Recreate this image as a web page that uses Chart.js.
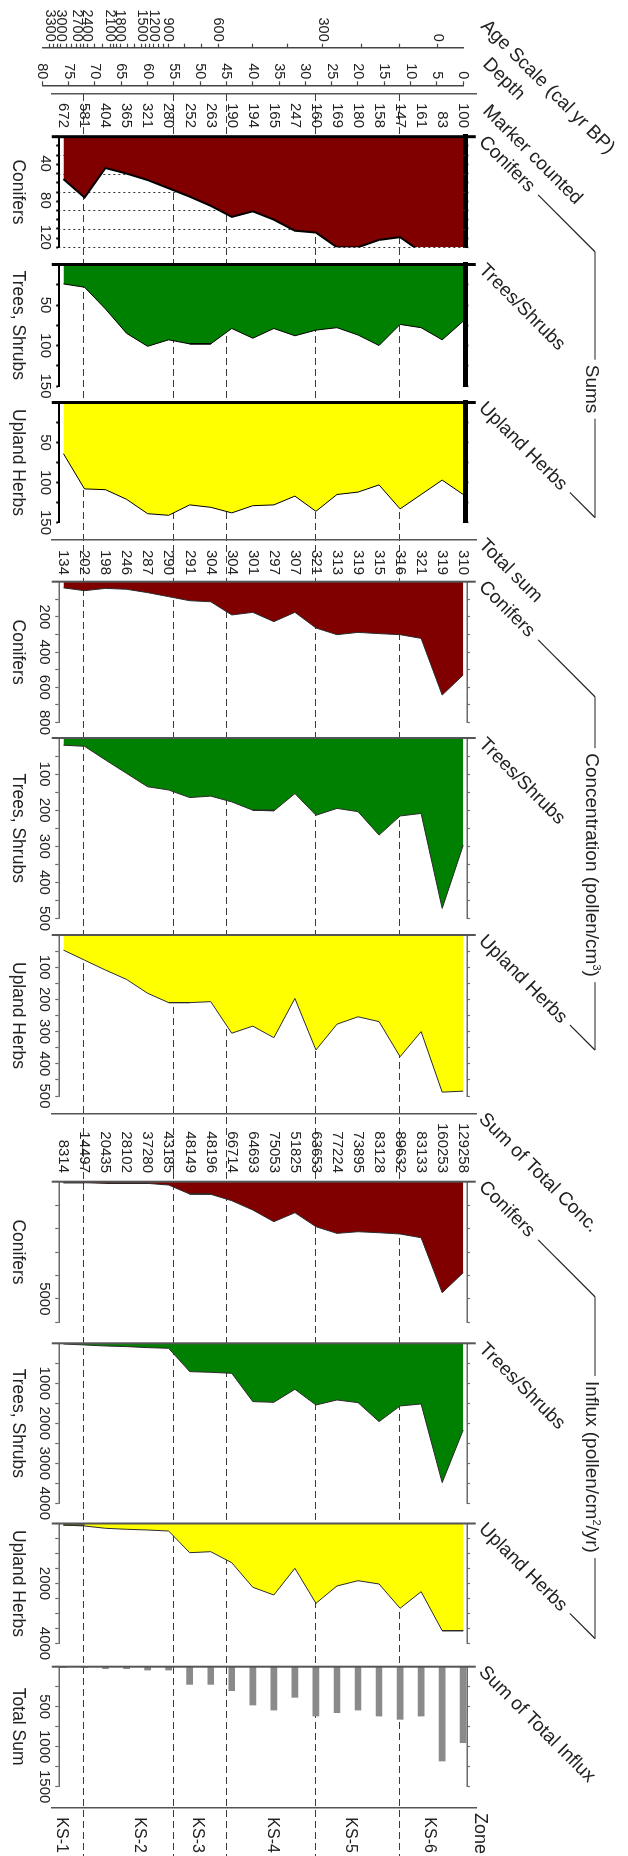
<!DOCTYPE html>
<html><head><meta charset="utf-8">
<script src="https://cdn.jsdelivr.net/npm/chart.js@4.4.1/dist/chart.umd.min.js"></script>
<style>
html,body{margin:0;padding:0;background:#fff;overflow:hidden;}
body{width:628px;height:1856px;position:relative;font-family:"Liberation Sans",Arial,Helvetica,sans-serif;color:#222;}
#stage{position:absolute;left:0;top:0;width:1856px;height:628px;transform-origin:0 0;transform:translateX(628px) rotate(90deg);}
#stage canvas{position:absolute;top:0;}
.hdr{position:absolute;white-space:nowrap;font-size:19px;line-height:19px;transform-origin:0 16px;transform:rotate(-45deg);z-index:5;}
.grp{position:absolute;white-space:nowrap;font-size:19px;line-height:19px;background:#fff;padding:0 5px;transform:translateX(-50%);z-index:5;}
.plain{position:absolute;white-space:nowrap;font-size:18px;line-height:19px;z-index:5;}
sup{font-size:11px;line-height:0;vertical-align:7px;}
</style></head><body><div id="stage"></div>
<script>
// ---------------- DATA (ordered by depth, top of core first) ----------------
const depths = [0,4,8,12,16,20,24,28,32,36,40,44,48,52,56,60,64,68,72,76];
const markerCounted = [100,83,161,147,158,180,169,160,247,165,194,190,263,252,280,321,365,404,581,672];
const totalSum = [310,319,321,316,315,319,313,321,307,297,301,304,304,291,290,287,246,198,202,134];
const sumTotalConc = [129258,160253,83133,89632,83128,73895,77224,63653,51825,75053,64693,66714,48196,48149,43185,37280,28102,20435,14497,8314];
const sumsConifers = [126,127,125,109,112,120,120,104,102,90,81,87,75,65,56,47,40,34,66,46];
const sumsTrees = [70,93,78,74,100,87,78,81,88,79,91,79,98,98,93,101,85,55,28,24];
const sumsHerbs = [115,97,115,133,103,112,115,136,117,128,129,138,131,128,141,139,121,109,108,64];
const concConifers = [530,644,322,301,295,288,301,263,174,227,174,189,114,108,85,62,43,38,51,35];
const concTrees = [297,472,209,216,269,204,195,214,154,202,200,177,161,165,144,135,98,61,23,20];
const concHerbs = [485,488,300,378,269,254,277,357,197,319,283,305,207,210,210,181,138,109,78,47];
const influxConifers = [3884,4737,2390,2232,2177,2134,2205,1920,1323,1707,1208,811,538,525,142,71,71,71,43,42];
const influxTrees = [2167,3483,1517,1567,1958,1483,1417,1542,1150,1475,1458,750,725,708,125,108,83,67,42,17];
const influxHerbs = [3573,3573,2273,2827,2017,1907,2083,2660,1493,2383,2127,1307,940,973,250,217,193,160,83,50];
const influxTotal = [950,1179,617,658,617,542,575,617,383,542,479,300,221,221,42,42,25,25,12,12];
const zoneBounds = [12,28,45,55,72];
const zoneNames = ['KS-6','KS-5','KS-4','KS-3','KS-2','KS-1'];
const zoneLabelDepths = [6.4,21.5,36.3,50.6,61.6,76.3];
const ageLabels = [0,300,600,900,1200,1500,1800,2100,2400,2700,3000,3300];
const ageDepths = [4.8,26.7,46.6,56.1,58.8,61.1,65.2,67.1,71.5,73.5,76.5,78.6];
const depthTicks = [0,5,10,15,20,25,30,35,40,45,50,55,60,65,70,75,80];
const sumsConifersTicks = [40,80,120];
const sumsTreesTicks = [50,100,150];
const sumsHerbsTicks = [50,100,150];
const concConifersTicks = [200,400,600,800];
const concTreesTicks = [100,200,300,400,500];
const concHerbsTicks = [100,200,300,400,500];
const influxConifersTicks = [5000];
const influxTreesTicks = [1000,2000,3000,4000];
const influxHerbsTicks = [2000,4000];
const influxTotalTicks = [500,1000,1500];

// ---------------- LAYOUT ----------------
Chart.defaults.font.family = '"Liberation Sans", Arial, Helvetica, sans-serif';
Chart.defaults.color = '#222';
const H = 628, PX = 5.26, V0 = 164.8;
const vAt = d => V0 + d * PX;
const PANEL_MAX = 76.8, LINE_MIN = -2.4, LINE_MAX = 78.2;
const XB = 52, XT = 4;
const stage = document.getElementById('stage');
const baseOpts = {responsive:false, animation:false, events:[], plugins:{legend:{display:false}, tooltip:{enabled:false}}};

function canvasFor(a, b) {
  const L = Math.floor(a), R = Math.ceil(b);
  const c = document.createElement('canvas');
  c.width = R - L; c.height = H;
  c.style.left = L + 'px';
  stage.appendChild(c);
  return {c, L, R};
}

function header(text, u, v) {
  const d = document.createElement('div');
  d.className = 'hdr';
  d.textContent = text;
  d.style.left = u + 'px';
  d.style.top = (v - 16) + 'px';
  stage.appendChild(d);
  return {u, v, w: d.offsetWidth};
}
function groupTitle(html, uc) {
  const d = document.createElement('div');
  d.className = 'grp';
  d.innerHTML = html;
  d.style.left = uc + 'px';
  d.style.top = (42 - 16) + 'px';
  stage.appendChild(d);
}

const P = {
  sC:[136.7,247.3], sT:[264.5,386], sH:[402.5,522.5],
  cC:[581.7,722.5], cT:[738,918.5], cH:[935,1096],
  iC:[1181.7,1322.3], iT:[1343.3,1503.3], iH:[1523.5,1643.5], iS:[1666.7,1786.7]
};
const ROW = {marker:94, total:539.3, conc:1113.3, zone:1807.3};

header('Age Scale (cal yr BP)', 27, 148);
header('Depth', 65, 146);
header('Marker counted', 112, 146);
const hS1 = header('Conifers', P.sC[0]+6.5, 150);
header('Trees/Shrubs', P.sT[0]+6.5, 150);
const hS3 = header('Upland Herbs', P.sH[0]+6.5, 150);
header('Total sum', ROW.total+6.5, 150);
const hC1 = header('Conifers', P.cC[0]+6.5, 150);
header('Trees/Shrubs', P.cT[0]+6.5, 150);
const hC3 = header('Upland Herbs', P.cH[0]+6.5, 150);
header('Sum of Total Conc.', ROW.conc+6.5, 150);
const hI1 = header('Conifers', P.iC[0]+6.5, 150);
header('Trees/Shrubs', P.iT[0]+6.5, 150);
const hI3 = header('Upland Herbs', P.iH[0]+6.5, 150);
header('Sum of Total Influx', P.iS[0]+6.5, 150);
groupTitle('Sums', 389);
groupTitle('Concentration (pollen/cm<sup>3</sup>)', 865);
groupTitle('Influx (pollen/cm<sup>2</sup>/yr)', 1467);
(function(){
  const d = document.createElement('div');
  d.className = 'plain'; d.textContent = 'Zone';
  d.style.left = '1813px'; d.style.top = (154 - 16) + 'px';
  stage.appendChild(d);
})();

// ---------------- background: zone lines + brackets ----------------
const bg = canvasFor(0, 1856);
new Chart(bg.c, {
  type:'line', data:{datasets:[]},
  options:Object.assign({}, baseOpts, {
    layout:{padding:{left:0,right:0,top:vAt(0),bottom:H - vAt(80)}},
    scales:{x:{display:false}, y:{type:'linear', min:0, max:80, reverse:true, display:false}}
  }),
  plugins:[{id:'decor', afterDraw(chart){
    const ctx = chart.ctx, ys = chart.scales.y;
    ctx.save();
    ctx.strokeStyle = '#3a3a3a'; ctx.lineWidth = 1.1; ctx.setLineDash([7,4]);
    zoneBounds.forEach(d => {
      const v = Math.round(ys.getPixelForValue(d)) + 0.5;
      ctx.beginPath(); ctx.moveTo(94, v); ctx.lineTo(1856, v); ctx.stroke();
    });
    ctx.setLineDash([]); ctx.strokeStyle = '#222'; ctx.lineWidth = 1.2;
    const diag = h => {
      const t0 = h.w + 8;
      const su = h.u - 4.2 + 0.7071*t0, sv = h.v - 4.2 - 0.7071*t0;
      const eu = h.u - 4.2 + (h.v - 4.2 - 33);
      ctx.beginPath(); ctx.moveTo(su, sv); ctx.lineTo(eu, 33); ctx.stroke();
      return eu;
    };
    [[hS1,hS3],[hC1,hC3],[hI1,hI3]].forEach(([a,b]) => {
      const e1 = diag(a), e2 = diag(b);
      ctx.beginPath(); ctx.moveTo(e1, 33); ctx.lineTo(e2, 33); ctx.stroke();
    });
    ctx.restore();
  }}]
});

// ---------------- axis columns (age, depth) ----------------
const ageVals = [], ageText = [];
for (let k = 0; k < ageLabels.length; k++) {
  ageVals.push(ageDepths[k]); ageText.push(String(ageLabels[k]));
  if (k < ageLabels.length - 1) {
    const a0 = ageLabels[k], a1 = ageLabels[k+1], d0 = ageDepths[k], d1 = ageDepths[k+1];
    for (let a = a0 + 100; a < a1; a += 100) { ageVals.push(d0 + (d1 - d0) * (a - a0) / (a1 - a0)); ageText.push(''); }
  }
}
function leftAxis(u, vals, text) {
  const {c, L, R} = canvasFor(0, u + 3);
  new Chart(c, {
    type:'line', data:{datasets:[]},
    options:Object.assign({}, baseOpts, {
      layout:{padding:{left:0, right:R - (u + 2), top:vAt(0), bottom:H - vAt(80)}},
      scales:{
        x:{display:false},
        y:{type:'linear', position:'left', min:0, max:80, reverse:true,
           afterFit:s => { s.width = u - L; },
           afterBuildTicks:s => { s.ticks = vals.map(v => ({value:v})); },
           grid:{display:true, drawOnChartArea:false, drawTicks:true, tickLength:4, tickWidth:1.2, tickColor:'#444', color:'#444'},
           border:{display:true, color:'#444', width:1.5},
           ticks:{autoSkip:false, padding:2, font:{size:14.5}, color:'#222', callback:(v, i) => text[i]}}
      }
    })
  });
}
leftAxis(47.7, ageVals, ageText);
leftAxis(85.3, depthTicks, depthTicks.map(String));

// ---------------- label rows ----------------
function labelRow(u, w, align, pad, size, at, text) {
  const {c, L, R} = canvasFor(u - 6, u + w + 8);
  new Chart(c, {
    type:'line', data:{datasets:[]},
    options:Object.assign({}, baseOpts, {
      layout:{padding:{left:(u - 3) - L, right:R - (u + w), top:vAt(LINE_MIN), bottom:H - vAt(LINE_MAX)}},
      scales:{
        x:{display:false},
        y:{type:'linear', position:'right', min:LINE_MIN, max:LINE_MAX, reverse:true,
           afterFit:s => { s.width = w; },
           afterBuildTicks:s => { s.ticks = at.map(v => ({value:v})); },
           grid:{display:false, drawTicks:false},
           border:{display:true, color:'#555', width:1.5},
           ticks:{autoSkip:false, crossAlign:align, padding:pad, font:{size:size}, color:'#222', callback:(v, i) => String(text[i])}}
      }
    })
  });
}
labelRow(ROW.marker, 34, 'far', 0, 15, depths, markerCounted);
labelRow(ROW.total, 35.7, 'far', 0, 15, depths, totalSum);
labelRow(ROW.conc, 59.7, 'far', 0, 15, depths, sumTotalConc);
labelRow(ROW.zone, 48, 'near', 10, 16, zoneLabelDepths, zoneNames);

// ---------------- data panels ----------------
function panel(o) {
  const sums = !!o.sums;
  const pmin = sums ? -0.4 : -0.7;
  const axisCol = sums ? '#000' : '#6a6a6a';
  const [u0, u1] = o.pos;
  const {c, L, R} = canvasFor(u0 - 30, u1 + 30);
  const top = vAt(pmin), bottom = vAt(PANEL_MAX);
  const pts = depths.map((d, i) => ({x:o.values[i], y:d}));
  const ds = o.bars
    ? {type:'bar', data:pts, backgroundColor:'#8a8a8a', borderWidth:0, barThickness:6}
    : {type:'line', data:pts, fill:{value:o.min}, backgroundColor:o.color, borderColor:sums ? '#000' : '#2b2b2b', borderWidth:o.lw || 1, pointRadius:0, tension:0};
  const frame = {
    id:'frame',
    beforeDatasetsDraw(chart) {
      if (!o.grid) return;
      const ctx = chart.ctx, a = chart.chartArea, xs = chart.scales.x;
      ctx.save(); ctx.strokeStyle = '#333'; ctx.lineWidth = 1; ctx.setLineDash([2,3]);
      o.grid.forEach(g => {
        const x = Math.round(xs.getPixelForValue(g)) + 0.5;
        ctx.beginPath(); ctx.moveTo(x, a.top); ctx.lineTo(x, a.bottom); ctx.stroke();
      });
      ctx.restore();
    },
    afterDatasetsDraw(chart) {
      const ctx = chart.ctx, ys = chart.scales.y, xs = chart.scales.x;
      const x = xs.getPixelForValue(o.min);
      ctx.save(); ctx.strokeStyle = sums ? '#000' : '#555'; ctx.lineWidth = sums ? 3 : 2;
      ctx.beginPath(); ctx.moveTo(x, ys.getPixelForValue(LINE_MIN)); ctx.lineTo(x, ys.getPixelForValue(LINE_MAX)); ctx.stroke();
      ctx.restore();
    }
  };
  new Chart(c, {
    type:o.bars ? 'bar' : 'line',
    data:{datasets:[ds]},
    options:Object.assign({}, baseOpts, {
      indexAxis:'y',
      layout:{padding:{left:u0 - L, right:R - u1, top:top - XT, bottom:H - bottom - XB}},
      scales:{
        x:{type:'linear', position:'bottom', min:o.min, max:o.max,
           afterFit:s => { s.height = XB; },
           border:{display:true, color:axisCol, width:sums ? 2 : 1.5},
           grid:{display:true, drawOnChartArea:false, drawTicks:true, tickLength:sums ? 3 : 4, tickWidth:sums ? 2 : 1.2, tickColor:axisCol, color:axisCol},
           ticks:{stepSize:o.step, maxTicksLimit:1000, autoSkip:false, maxRotation:0, minRotation:0, padding:2, labelOffset:o.labelOffset || 0,
                  font:{size:15}, color:'#222', callback:v => o.labels.includes(v) ? String(v) : ''},
           title:{display:true, text:o.title, font:{size:17.5}, color:'#222', padding:0}},
        x2:{type:'linear', position:'top', min:o.min, max:o.max,
           afterFit:s => { s.height = XT; },
           border:{display:true, color:axisCol, width:sums ? 5 : 1.5},
           grid:{display:true, drawOnChartArea:false, drawTicks:true, tickLength:3, tickWidth:sums ? 2 : 1.2, tickColor:axisCol, color:axisCol},
           ticks:{display:false, stepSize:o.step, maxTicksLimit:1000}},
        y:{type:'linear', min:pmin, max:PANEL_MAX, reverse:true, display:false, offset:false}
      }
    }),
    plugins:[frame]
  });
}
const RED = '#800000', GREEN = '#008000', YELLOW = '#ffff00';
panel({pos:P.sC, min:0, max:120, step:10, labels:sumsConifersTicks, title:'Conifers', values:sumsConifers, color:RED, sums:true, lw:2, grid:[20,40,60,80,100,120], labelOffset:-10});
panel({pos:P.sT, min:0, max:150, step:25, labels:sumsTreesTicks, title:'Trees, Shrubs', values:sumsTrees, color:GREEN, sums:true});
panel({pos:P.sH, min:0, max:150, step:25, labels:sumsHerbsTicks, title:'Upland Herbs', values:sumsHerbs, color:YELLOW, sums:true});
panel({pos:P.cC, min:0, max:800, step:100, labels:concConifersTicks, title:'Conifers', values:concConifers, color:RED});
panel({pos:P.cT, min:0, max:500, step:50, labels:concTreesTicks, title:'Trees, Shrubs', values:concTrees, color:GREEN});
panel({pos:P.cH, min:0, max:500, step:50, labels:concHerbsTicks, title:'Upland Herbs', values:concHerbs, color:YELLOW});
panel({pos:P.iC, min:0, max:6000, step:1000, labels:influxConifersTicks, title:'Conifers', values:influxConifers, color:RED});
panel({pos:P.iT, min:0, max:4000, step:500, labels:influxTreesTicks, title:'Trees, Shrubs', values:influxTrees, color:GREEN});
panel({pos:P.iH, min:0, max:4000, step:500, labels:influxHerbsTicks, title:'Upland Herbs', values:influxHerbs, color:YELLOW});
panel({pos:P.iS, min:0, max:1500, step:250, labels:influxTotalTicks, title:'Total Sum', values:influxTotal, bars:true});
</script></body></html>
